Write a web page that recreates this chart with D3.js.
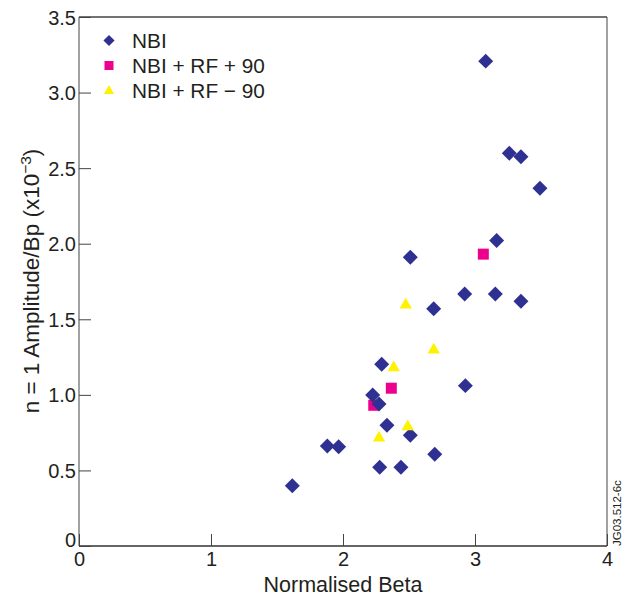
<!DOCTYPE html>
<html>
<head>
<meta charset="utf-8">
<script src="https://cdn.jsdelivr.net/npm/d3@7"></script>
<style>
  html, body { margin: 0; padding: 0; background: #fff; }
  svg { display: block; font-family: "Liberation Sans", Arial, Helvetica, sans-serif; }
</style>
</head>
<body>
<svg id="chart" width="627" height="603"></svg>
<script>
// ---- data ----
const nbiBeta = [3.081, 3.260, 3.348, 3.492, 3.164, 2.510, 2.922, 3.154, 3.348, 2.687, 2.293, 2.927, 2.225, 2.273, 2.333, 2.510, 1.881, 1.967, 2.695, 2.278, 2.439, 1.616];
const nbiAmp  = [3.208, 2.599, 2.576, 2.367, 2.021, 1.911, 1.668, 1.668, 1.619, 1.570, 1.203, 1.061, 0.999, 0.940, 0.799, 0.733, 0.662, 0.657, 0.607, 0.521, 0.521, 0.399];
const rfPlusBeta = [3.063, 2.366, 2.233];
const rfPlusAmp  = [1.931, 1.044, 0.931];
const rfMinusBeta = [2.475, 2.687, 2.384, 2.490, 2.273];
const rfMinusAmp  = [1.595, 1.298, 1.180, 0.790, 0.715];
const xTicks = [0, 1, 2, 3, 4];
const yTicks = [0, 0.5, 1.0, 1.5, 2.0, 2.5, 3.0, 3.5];
const seriesNames = ["NBI", "NBI + RF + 90", "NBI + RF \u2212 90"];
const colors = ["#2e3192", "#ec008c", "#fff200"];

(function () {
// ---- layout ----
const svg = d3.select("#chart");
const pL = 79, pR = 607, pT = 17, pB = 546;
const x = d3.scaleLinear().domain([0, 4]).range([pL, pR]);
const y = d3.scaleLinear().domain([0, 3.5]).range([pB, pT]);
const textColor = "#231f20";

// frame
svg.append("line").attr("x1", pL).attr("x2", pL).attr("y1", pT).attr("y2", pB).attr("stroke", "#8a8a8a").attr("stroke-width", 1.6);
svg.append("line").attr("x1", pR).attr("x2", pR).attr("y1", pT).attr("y2", pB).attr("stroke", "#8a8a8a").attr("stroke-width", 1.6);
svg.append("line").attr("x1", pL).attr("x2", pR).attr("y1", pT).attr("y2", pT).attr("stroke", "#444").attr("stroke-width", 1.3);
svg.append("line").attr("x1", pL).attr("x2", pR).attr("y1", pB).attr("y2", pB).attr("stroke", "#333").attr("stroke-width", 1.3);

// axes
const xAxis = d3.axisBottom(x).tickValues(xTicks).tickFormat(d3.format("d")).tickSizeInner(-12).tickSizeOuter(0).tickPadding(6);
const gx = svg.append("g").attr("transform", `translate(0,${pB})`).call(xAxis);
gx.select(".domain").remove();
gx.selectAll(".tick line").attr("stroke", "#444").attr("stroke-width", 1);
gx.selectAll(".tick text").attr("font-size", 20).attr("fill", textColor);
gx.attr("font-family", null).attr("font-size", null);

const yAxis = d3.axisLeft(y).tickValues(yTicks).tickFormat(d => d === 0 ? "0" : d3.format(".1f")(d)).tickSizeInner(-12).tickSizeOuter(0).tickPadding(3);
const gy = svg.append("g").attr("transform", `translate(${pL},0)`).call(yAxis);
gy.select(".domain").remove();
gy.selectAll(".tick line").attr("stroke", "#444").attr("stroke-width", 1);
gy.selectAll(".tick text").attr("font-size", 20).attr("fill", textColor)
  .attr("dy", d => d === 0 ? "0em" : "0.35em");
gy.attr("font-family", null).attr("font-size", null);

// axis titles
svg.append("text").attr("x", 343).attr("y", 591.5).attr("text-anchor", "middle")
  .attr("font-size", 21.5).attr("fill", textColor).text("Normalised Beta");

const yl = svg.append("text").attr("transform", "translate(39,281) rotate(-90)").attr("text-anchor", "middle")
  .attr("font-size", 22.5).attr("fill", textColor);
yl.append("tspan").text("n = 1 Amplitude/Bp (x10");
yl.append("tspan").attr("dy", -8).attr("font-size", 15.5).text("\u22123");
yl.append("tspan").attr("dy", 8).text(")");

svg.append("text").attr("transform", "translate(621,546) rotate(-90)").attr("text-anchor", "start")
  .attr("font-size", 11.5).attr("fill", textColor).text("JG03.512-6c");

// marks
const sq = d3.symbol().type(d3.symbolSquare);
const tri = d3.symbol().type(d3.symbolTriangle);

svg.append("g").selectAll("path").data(d3.range(rfPlusBeta.length)).join("path")
  .attr("d", sq.size(121)())
  .attr("transform", i => `translate(${x(rfPlusBeta[i])},${y(rfPlusAmp[i])})`)
  .attr("fill", colors[1]);

svg.append("g").selectAll("path").data(d3.range(nbiBeta.length)).join("path")
  .attr("d", sq.size(112)())
  .attr("transform", i => `translate(${x(nbiBeta[i])},${y(nbiAmp[i])}) rotate(45)`)
  .attr("fill", colors[0]);

svg.append("g").selectAll("path").data(d3.range(rfMinusBeta.length)).join("path")
  .attr("d", tri.size(66)())
  .attr("transform", i => `translate(${x(rfMinusBeta[i])},${y(rfMinusAmp[i])})`)
  .attr("fill", colors[2]);

// legend
const legY = [40.5, 65.5, 91];
const lg = svg.append("g");
lg.append("path").attr("d", sq.size(62)()).attr("transform", `translate(109,${legY[0]}) rotate(45)`).attr("fill", colors[0]);
lg.append("path").attr("d", sq.size(81)()).attr("transform", `translate(109,${legY[1]})`).attr("fill", colors[1]);
lg.append("path").attr("d", tri.size(45)()).attr("transform", `translate(109,${legY[2]})`).attr("fill", colors[2]);
seriesNames.forEach((n, i) => {
  lg.append("text").attr("x", 132).attr("y", legY[i] + 7.4).attr("font-size", 20.8).attr("fill", textColor).text(n);
});
})();
</script>
</body>
</html>
